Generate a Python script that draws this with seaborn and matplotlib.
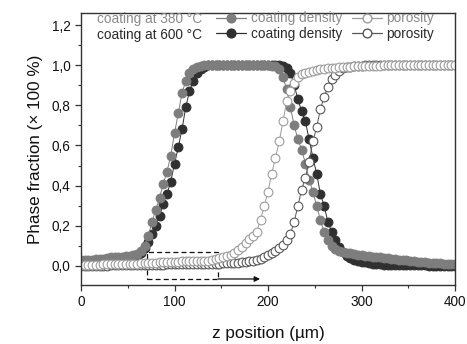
import numpy as np
import pandas as pd
import matplotlib
matplotlib.use("Agg")
import matplotlib.pyplot as plt
from matplotlib.lines import Line2D
from matplotlib.patches import Rectangle
from matplotlib.ticker import MultipleLocator, FuncFormatter
import seaborn as sns

# depth positions of the profile (µm)
z_um = np.arange(0, 401, 4)

# coating density / porosity profiles for both deposition temperatures
density_380 = [
    0.030, 0.030, 0.031, 0.032, 0.033, 0.035, 0.037, 0.040, 0.042, 0.044,
    0.045, 0.046, 0.047, 0.048, 0.052, 0.060, 0.075, 0.100, 0.150, 0.220,
    0.280, 0.340, 0.410, 0.470, 0.550, 0.660, 0.760, 0.860, 0.920, 0.960,
    0.980, 0.990, 0.995, 1.000, 1.000, 1.000, 1.000, 1.000, 1.000, 1.000,
    1.000, 1.000, 1.000, 1.000, 1.000, 1.000, 1.000, 1.000, 1.000, 1.000,
    1.000, 0.998, 0.995, 0.980, 0.940, 0.880, 0.790, 0.700, 0.630, 0.580,
    0.510, 0.430, 0.370, 0.300, 0.230, 0.170, 0.130, 0.100, 0.085, 0.075,
    0.070, 0.065, 0.062, 0.058, 0.055, 0.052, 0.050, 0.048, 0.046, 0.044,
    0.042, 0.040, 0.038, 0.036, 0.034, 0.032, 0.030, 0.028, 0.026, 0.024,
    0.022, 0.020, 0.018, 0.017, 0.016, 0.015, 0.013, 0.012, 0.011, 0.010,
    0.009,
]
density_600 = [
    0.012, 0.012, 0.013, 0.013, 0.014, 0.014, 0.015, 0.015, 0.016, 0.016,
    0.017, 0.018, 0.020, 0.022, 0.030, 0.045, 0.065, 0.090, 0.120, 0.160,
    0.200, 0.250, 0.310, 0.360, 0.420, 0.510, 0.590, 0.680, 0.790, 0.870,
    0.920, 0.960, 0.980, 0.990, 1.000, 1.000, 1.000, 1.000, 1.000, 1.000,
    1.000, 1.000, 1.000, 1.000, 1.000, 1.000, 1.000, 1.000, 1.000, 1.000,
    1.000, 1.000, 1.000, 1.000, 0.995, 0.985, 0.960, 0.900, 0.830, 0.770,
    0.720, 0.630, 0.540, 0.460, 0.360, 0.300, 0.220, 0.170, 0.130, 0.095,
    0.070, 0.050, 0.040, 0.032, 0.027, 0.022, 0.018, 0.015, 0.012, 0.010,
    0.008, 0.007, 0.006, 0.005, 0.005, 0.004, 0.004, 0.004, 0.003, 0.003,
    0.003, 0.003, 0.003, 0.002, 0.002, 0.002, 0.002, 0.002, 0.002, 0.002,
    0.002,
]
porosity_380 = [
    0.005, 0.005, 0.006, 0.006, 0.007, 0.007, 0.008, 0.008, 0.009, 0.009,
    0.010, 0.010, 0.011, 0.011, 0.012, 0.012, 0.013, 0.014, 0.015, 0.016,
    0.017, 0.018, 0.019, 0.020, 0.021, 0.022, 0.022, 0.023, 0.023, 0.023,
    0.023, 0.023, 0.024, 0.025, 0.027, 0.030, 0.035, 0.040, 0.045, 0.050,
    0.055, 0.065, 0.080, 0.095, 0.115, 0.135, 0.150, 0.170, 0.230, 0.300,
    0.370, 0.460, 0.540, 0.620, 0.720, 0.820, 0.870, 0.910, 0.940, 0.955,
    0.962, 0.968, 0.973, 0.977, 0.980, 0.982, 0.984, 0.986, 0.988, 0.990,
    0.991, 0.992, 0.993, 0.994, 0.995, 0.996, 0.997, 0.997, 0.998, 0.998,
    0.998, 0.999, 0.999, 0.999, 0.999, 1.000, 1.000, 1.000, 1.000, 1.000,
    1.000, 1.000, 1.000, 1.000, 1.000, 1.000, 1.000, 1.000, 1.000, 1.000,
    1.000,
]
porosity_600 = [
    0.000, 0.000, 0.001, 0.001, 0.001, 0.002, 0.002, 0.002, 0.003, 0.003,
    0.003, 0.004, 0.004, 0.004, 0.005, 0.005, 0.005, 0.006, 0.006, 0.006,
    0.007, 0.007, 0.007, 0.008, 0.008, 0.008, 0.009, 0.009, 0.009, 0.010,
    0.010, 0.010, 0.010, 0.011, 0.011, 0.011, 0.012, 0.012, 0.013, 0.013,
    0.014, 0.015, 0.016, 0.018, 0.020, 0.023, 0.027, 0.032, 0.037, 0.044,
    0.052, 0.062, 0.073, 0.088, 0.105, 0.130, 0.160, 0.220, 0.300, 0.380,
    0.440, 0.520, 0.620, 0.690, 0.780, 0.840, 0.890, 0.930, 0.950, 0.970,
    0.985, 0.990, 0.993, 0.995, 0.997, 0.998, 0.999, 1.000, 1.000, 1.000,
    1.000, 1.000, 1.000, 1.000, 1.000, 1.000, 1.000, 1.000, 1.000, 1.000,
    1.000, 1.000, 1.000, 1.000, 1.000, 1.000, 1.000, 1.000, 1.000, 1.000,
    1.000,
]

x_ticks = [0, 100, 200, 300, 400]
y_ticks = [0.0, 0.2, 0.4, 0.6, 0.8, 1.0, 1.2]
row_labels = ["coating at 380 °C", "coating at 600 °C"]
series_labels = ["coating density", "porosity"]

# highlighted region below the profiles (z range and phase fraction range)
box_z = (70.6, 146.5)
box_y = (-0.065, 0.07)
arrow_end_z = 191.5

C380_FILL = "#7d7d7d"
C600_FILL = "#303030"
C380_OPEN = "#9c9c9c"
C600_OPEN = "#585858"
TXT380 = "#8a8a8a"
TXT600 = "#2a2a2a"

sns.set_theme(style="ticks")
plt.rcParams["font.family"] = ["Liberation Sans", "DejaVu Sans"]
plt.rcParams["axes.edgecolor"] = "#333333"
plt.rcParams["axes.linewidth"] = 1.0

fig = plt.figure(figsize=(4.67, 3.44), dpi=100)
ax = fig.add_axes([81 / 467, 1 - 285 / 344, 374 / 467, 272 / 344])

df = pd.DataFrame({
    "z": z_um,
    "d600": density_600,
    "d380": density_380,
    "p600": porosity_600,
    "p380": porosity_380,
})

ms = 6.3
styles = [
    ("d600", C600_FILL, C600_FILL),
    ("d380", C380_FILL, C380_FILL),
    ("p600", C600_OPEN, "white"),
    ("p380", C380_OPEN, "white"),
]
for col, ec, fc in styles:
    sns.lineplot(data=df, x="z", y=col, ax=ax, color=ec, lw=0.7,
                 marker="o", markersize=ms, markerfacecolor=fc,
                 markeredgecolor=ec, markeredgewidth=0.8, legend=False)

ax.set_xlim(0, 400)
ax.set_ylim(-0.095, 1.26)
ax.set_xticks(x_ticks)
ax.set_yticks(y_ticks)
ax.xaxis.set_minor_locator(MultipleLocator(50))
ax.yaxis.set_minor_locator(MultipleLocator(0.1))
ax.yaxis.set_major_formatter(FuncFormatter(lambda v, p: f"{v:.1f}".replace(".", ",")))
ax.tick_params(axis="both", which="major", direction="out", length=4.5,
               width=0.9, color="#333333", labelsize=9.8, labelcolor="#111111", pad=3)
ax.tick_params(axis="both", which="minor", direction="out", length=2.5,
               width=0.8, color="#333333")
ax.tick_params(top=False, right=False, which="both")
for s in ax.spines.values():
    s.set_visible(True)

ax.set_xlabel("z position (µm)", fontsize=12.3, color="#111111", labelpad=12)
ax.set_ylabel("Phase fraction (× 100 %)", fontsize=12.3, color="#111111", labelpad=6)

# dashed box with arrow marking the shifted porosity onset
ax.add_patch(Rectangle((box_z[0], box_y[0]), box_z[1] - box_z[0], box_y[1] - box_y[0],
                       fill=False, ls=(0, (4, 2.5)), lw=0.9, ec="#111111"))
ax.annotate("", xy=(arrow_end_z, box_y[0]), xytext=(box_z[1], box_y[0]),
            arrowprops=dict(arrowstyle="-|>", color="#111111", lw=0.9,
                            mutation_scale=8, shrinkA=0, shrinkB=0))

# two-row legend: temperature label followed by its two series
ax.text(0.043, 0.977, row_labels[0], transform=ax.transAxes, fontsize=9.8,
        color=TXT380, ha="left", va="center")
ax.text(0.043, 0.918, row_labels[1], transform=ax.transAxes, fontsize=9.8,
        color=TXT600, ha="left", va="center")

handles = [
    Line2D([], [], color=C380_FILL, lw=0.9, marker="o", markersize=ms,
           mfc=C380_FILL, mec=C380_FILL),
    Line2D([], [], color=C600_FILL, lw=0.9, marker="o", markersize=ms,
           mfc=C600_FILL, mec=C600_FILL),
    Line2D([], [], color=C380_OPEN, lw=0.9, marker="o", markersize=ms,
           mfc="white", mec=C380_OPEN),
    Line2D([], [], color=C600_OPEN, lw=0.9, marker="o", markersize=ms,
           mfc="white", mec=C600_OPEN),
]
labels = [series_labels[0], series_labels[0], series_labels[1], series_labels[1]]
leg = ax.legend(handles, labels, ncol=2, loc="upper left",
                bbox_to_anchor=(0.362, 1.006), frameon=False, fontsize=9.8,
                handlelength=2.2, handletextpad=0.35, columnspacing=0.7,
                labelspacing=0.12, borderpad=0, borderaxespad=0, numpoints=1)
for t, c in zip(leg.get_texts(), [TXT380, TXT600, TXT380, TXT600]):
    t.set_color(c)

fig.savefig("out.png", dpi=100, facecolor="white")
